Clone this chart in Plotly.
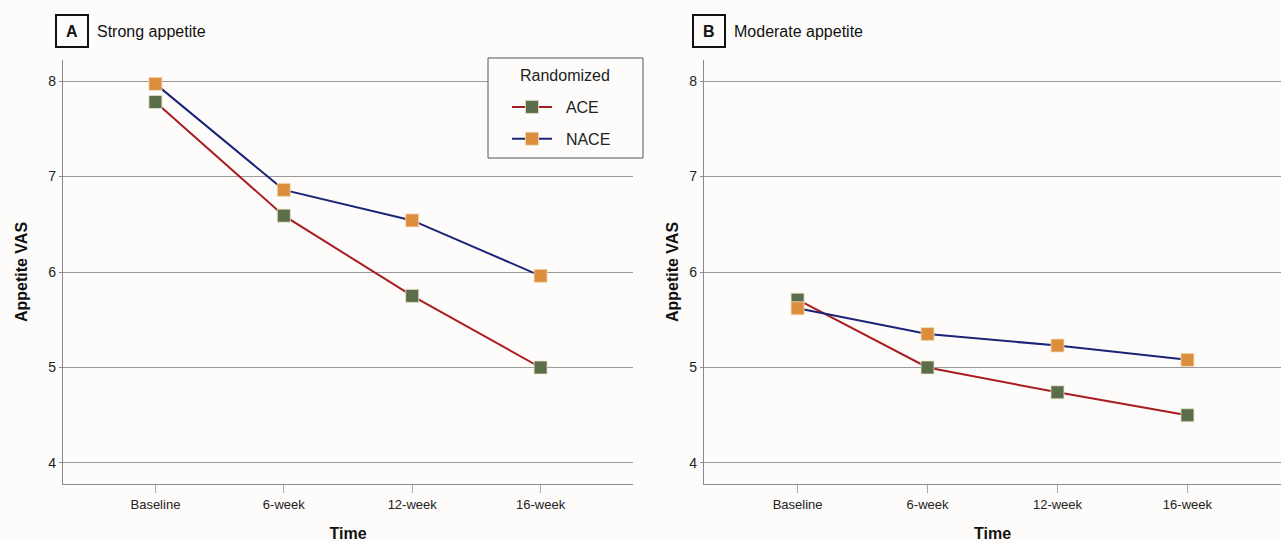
import plotly.graph_objects as go

time_points = ["Baseline", "6-week", "12-week", "16-week"]
strong_ace = [7.78, 6.59, 5.75, 5.00]
strong_nace = [7.97, 6.86, 6.54, 5.96]
moderate_ace = [5.71, 5.00, 4.74, 4.50]
moderate_nace = [5.62, 5.35, 5.23, 5.08]
y_ticks = [4, 5, 6, 7, 8]

W, H = 1281, 542
BG = "#fdfcfa"
ACE_LINE = "#a81c22"
NACE_LINE = "#1c2478"
ACE_MARK = "#5b6e4a"
NACE_MARK = "#dc8e3c"
FONT = "Liberation Sans, Arial, sans-serif"

fig = go.Figure()

def add_pair(xa, ya, ace, nace, show):
    fig.add_trace(go.Scatter(
        x=time_points, y=ace, name="&nbsp;&nbsp;ACE", mode="lines+markers", xaxis=xa, yaxis=ya,
        line=dict(color=ACE_LINE, width=2),
        marker=dict(symbol="square", size=13, color=ACE_MARK, line=dict(color="rgba(230,225,200,0.8)", width=1)),
        showlegend=show, legendgroup="ace"))
    fig.add_trace(go.Scatter(
        x=time_points, y=nace, name="&nbsp;&nbsp;NACE", mode="lines+markers", xaxis=xa, yaxis=ya,
        line=dict(color=NACE_LINE, width=2),
        marker=dict(symbol="square", size=13, color=NACE_MARK, line=dict(color="rgba(240,220,190,0.8)", width=1)),
        showlegend=show, legendgroup="nace"))

add_pair("x", "y", strong_ace, strong_nace, True)
add_pair("x2", "y2", moderate_ace, moderate_nace, False)

ytop = 1 - 60 / H
ybot = 1 - 484 / H

xcommon = dict(
    type="category", range=[-0.72, 3.72], showgrid=False, zeroline=False,
    showline=True, linecolor="#8a8a8a", linewidth=1.2,
    ticks="outside", ticklen=8, tickcolor="#aaaaaa", tickwidth=1,
    tickfont=dict(family=FONT, size=13, color="#222"),
    title=dict(text="<b>Time</b>", font=dict(family=FONT, size=16, color="#111"), standoff=19),
)
ycommon = dict(
    range=[3.78, 8.22], tickvals=y_ticks, showgrid=True, gridcolor="#9a9a9a", gridwidth=1,
    zeroline=False, showline=True, linecolor="#8a8a8a", linewidth=1.2,
    ticks="outside", ticklen=3, tickcolor="#8a8a8a",
    tickfont=dict(family=FONT, size=14, color="#222"),
)
ytitle = "<b>Appetite VAS</b>"
ytfont = dict(family=FONT, size=16, color="#111")

fig.update_layout(
    width=W, height=H,
    margin=dict(l=0, r=0, t=0, b=0),
    paper_bgcolor=BG, plot_bgcolor=BG,
    xaxis=dict(domain=[63 / W, 633 / W], anchor="y", **xcommon),
    yaxis=dict(domain=[ybot, ytop], anchor="x", title=dict(text=ytitle, font=ytfont, standoff=16), **ycommon),
    xaxis2=dict(domain=[704 / W, 1.0], anchor="y2", **xcommon),
    yaxis2=dict(domain=[ybot, ytop], anchor="x2", title=dict(text=ytitle, font=ytfont, standoff=6), **ycommon),
    legend=dict(
        x=507 / W, y=1 - 90 / H, xanchor="left", yanchor="top",
        bgcolor="rgba(0,0,0,0)", borderwidth=0,
        font=dict(family=FONT, size=16, color="#222"),
        tracegroupgap=8, itemwidth=40,
    ),
    showlegend=True,
)

# legend frame and title
fig.add_shape(type="rect", xref="paper", yref="paper", layer="above",
              x0=488 / W, x1=643 / W, y0=1 - 158 / H, y1=1 - 58 / H,
              line=dict(color="#555", width=1), fillcolor=BG)
fig.add_annotation(xref="paper", yref="paper", x=565 / W, y=1 - 75 / H,
                   text="Randomized", showarrow=False,
                   font=dict(family=FONT, size=16, color="#222"), xanchor="center", yanchor="middle")

for label, title, x0 in [("A", "Strong appetite", 56), ("B", "Moderate appetite", 693)]:
    fig.add_shape(type="rect", xref="paper", yref="paper",
                  x0=x0 / W, x1=(x0 + 32) / W, y0=1 - 47 / H, y1=1 - 15 / H,
                  line=dict(color="#111", width=2), fillcolor="rgba(0,0,0,0)")
    fig.add_annotation(xref="paper", yref="paper", x=(x0 + 16) / W, y=1 - 31 / H,
                       text=f"<b>{label}</b>", showarrow=False,
                       font=dict(family=FONT, size=16, color="#111"), xanchor="center", yanchor="middle")
    fig.add_annotation(xref="paper", yref="paper", x=(x0 + 39) / W, y=1 - 31 / H,
                       text=title, showarrow=False,
                       font=dict(family=FONT, size=16, color="#111"), xanchor="left", yanchor="middle")

fig.write_html("out.html", config={"displayModeBar": False},
               post_script="document.body.style.margin='0';document.body.style.padding='0';")
